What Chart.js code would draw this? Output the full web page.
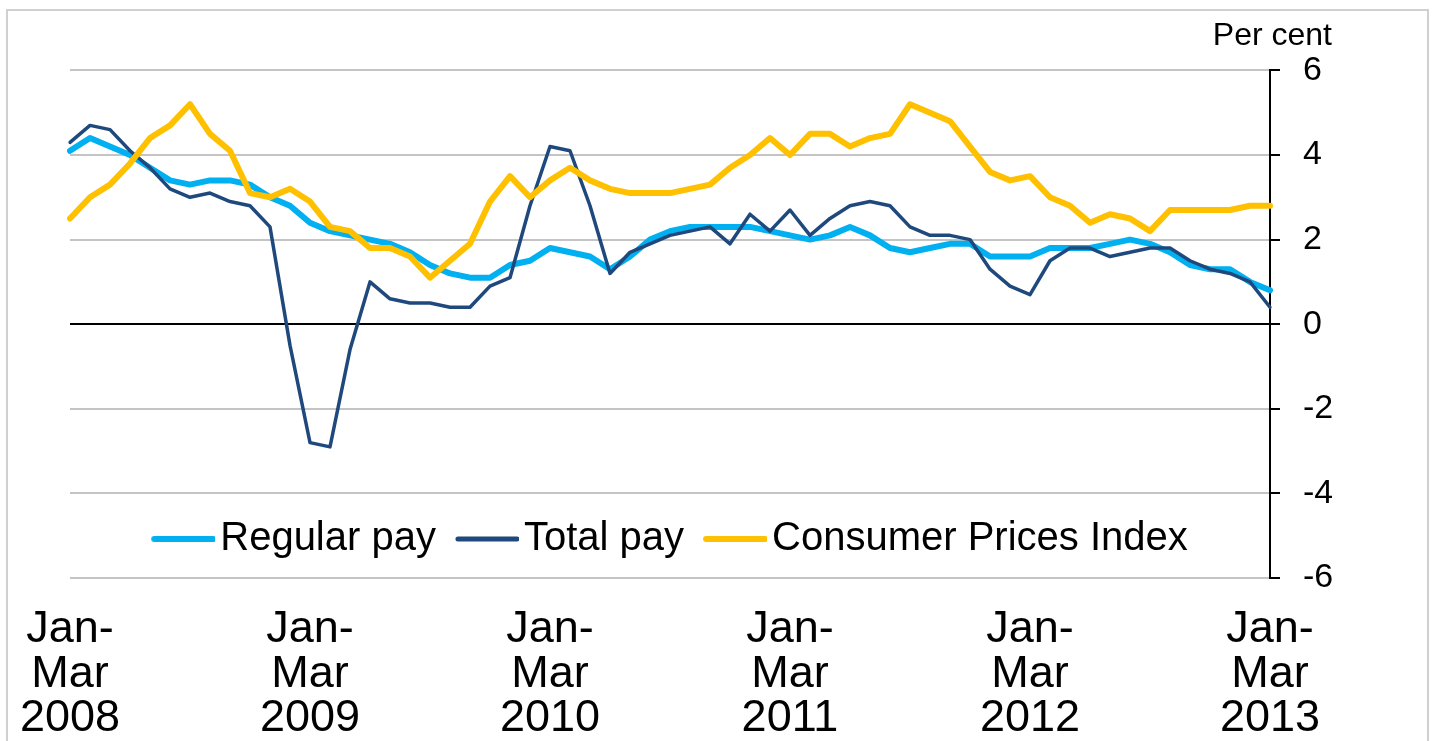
<!DOCTYPE html>
<html>
<head>
<meta charset="utf-8">
<title>Pay growth and CPI inflation</title>
<script src="https://cdn.jsdelivr.net/npm/chart.js@4.4.1/dist/chart.umd.min.js"></script>
<style>
  html, body { margin: 0; padding: 0; background: #fff; overflow: hidden; }
  #wrap { position: relative; width: 1432px; height: 741px; }
  #frame {
    position: absolute; left: 6px; top: 9px; width: 1419px; height: 760px;
    border: 2px solid #d0d0d0; pointer-events: none;
  }
</style>
</head>
<body>
<div id="wrap">
  <canvas id="pay_chart" width="1432" height="741"></canvas>
  <div id="frame"></div>
</div>
<script>
// years shown on the x axis, one label per Jan-Mar period
const YEARS = ['2008', '2009', '2010', '2011', '2012', '2013'];
const MONTHS = ['Jan', 'Feb', 'Mar', 'Apr', 'May', 'Jun', 'Jul', 'Aug', 'Sep', 'Oct', 'Nov', 'Dec'];

// per cent, rolling three months, Jan-Mar 2008 ... Jan-Mar 2013
const REGULAR_PAY = [
    4.1, 4.4, 4.2, 4.0, 3.7, 3.4, 3.3, 3.4, 3.4, 3.3, 3.0, 2.8,
    2.4, 2.2, 2.1, 2.0, 1.9, 1.7, 1.4, 1.2, 1.1, 1.1, 1.4, 1.5,
    1.8, 1.7, 1.6, 1.3, 1.6, 2.0, 2.2, 2.3, 2.3, 2.3, 2.3, 2.2,
    2.1, 2.0, 2.1, 2.3, 2.1, 1.8, 1.7, 1.8, 1.9, 1.9, 1.6, 1.6,
    1.6, 1.8, 1.8, 1.8, 1.9, 2.0, 1.9, 1.7, 1.4, 1.3, 1.3, 1.0,
    0.8
];
const TOTAL_PAY = [
    4.3, 4.7, 4.6, 4.1, 3.7, 3.2, 3.0, 3.1, 2.9, 2.8, 2.3, -0.5,
    -2.8, -2.9, -0.6, 1.0, 0.6, 0.5, 0.5, 0.4, 0.4, 0.9, 1.1, 2.8,
    4.2, 4.1, 2.8, 1.2, 1.7, 1.9, 2.1, 2.2, 2.3, 1.9, 2.6, 2.2,
    2.7, 2.1, 2.5, 2.8, 2.9, 2.8, 2.3, 2.1, 2.1, 2.0, 1.3, 0.9,
    0.7, 1.5, 1.8, 1.8, 1.6, 1.7, 1.8, 1.8, 1.5, 1.3, 1.2, 1.0,
    0.4
];
const CPI = [
    2.5, 3.0, 3.3, 3.8, 4.4, 4.7, 5.2, 4.5, 4.1, 3.1, 3.0, 3.2,
    2.9, 2.3, 2.2, 1.8, 1.8, 1.6, 1.1, 1.5, 1.9, 2.9, 3.5, 3.0,
    3.4, 3.7, 3.4, 3.2, 3.1, 3.1, 3.1, 3.2, 3.3, 3.7, 4.0, 4.4,
    4.0, 4.5, 4.5, 4.2, 4.4, 4.5, 5.2, 5.0, 4.8, 4.2, 3.6, 3.4,
    3.5, 3.0, 2.8, 2.4, 2.6, 2.5, 2.2, 2.7, 2.7, 2.7, 2.7, 2.8,
    2.8
];

const FONT = "'Liberation Sans', Arial, sans-serif";

// category labels: "Jan-Mar 2008", "Feb-Apr 2008", ...
const PERIODS = REGULAR_PAY.map((_, i) => {
    const first = MONTHS[i % 12];
    const last = MONTHS[(i + 2) % 12];
    const year = 2008 + Math.floor((i + 2) / 12);
    return first + '-' + last + ' ' + year;
});

// legend swatch: a short line sitting close to its text
function legendSwatch(color, width) {
    const c = document.createElement('canvas');
    c.width = 78;
    c.height = 10;
    const g = c.getContext('2d');
    g.strokeStyle = color;
    g.lineWidth = width;
    g.lineCap = 'round';
    g.beginPath();
    g.moveTo(17, 5);
    g.lineTo(76, 5);
    g.stroke();
    return c;
}

// legend takes no room in the layout, then sits in the lower part of the plot
const LEGEND_LOW = {
    id: 'legendLow',
    afterLayout(chart) {
        const lg = chart.legend;
        const area = chart.chartArea;
        lg.left = area.left;
        lg.right = area.right;
        lg.top = area.bottom - 79;
        lg.bottom = area.bottom;
    }
};

document.addEventListener("DOMContentLoaded", () => {
    const CHART_PAY = new Chart(document.getElementById('pay_chart'), {
        type: 'line',
        data: {
            labels: PERIODS,
            datasets: [
                {
                    label: 'Regular pay',
                    data: REGULAR_PAY,
                    borderColor: '#00B0F0',
                    backgroundColor: '#00B0F0',
                    borderWidth: 6,
                    order: 3
                },
                {
                    label: 'Total pay',
                    data: TOTAL_PAY,
                    borderColor: '#1F497D',
                    backgroundColor: '#1F497D',
                    borderWidth: 3.5,
                    order: 2
                },
                {
                    label: 'Consumer Prices Index',
                    data: CPI,
                    borderColor: '#FFC000',
                    backgroundColor: '#FFC000',
                    borderWidth: 6,
                    order: 1
                }
            ]
        },
        options: {
            responsive: false,
            animation: false,
            layout: { padding: { left: 70, right: 100, top: 0, bottom: 4 } },
            elements: {
                point: { radius: 0 },
                line: { tension: 0, borderJoinStyle: 'round', borderCapStyle: 'round' }
            },
            scales: {
                x: {
                    offset: false,
                    grid: { display: false, drawTicks: false },
                    border: { display: false },
                    afterFit: (scale) => {
                        scale.height = 159;
                        scale.paddingLeft = 0;
                        scale.paddingRight = 0;
                    },
                    ticks: {
                        autoSkip: false,
                        maxRotation: 0,
                        padding: 30,
                        color: '#000',
                        font: { family: FONT, size: 45, lineHeight: 0.98 },
                        callback: (value, index) =>
                            index % 12 === 0 ? ['Jan-', 'Mar', YEARS[index / 12]] : null
                    }
                },
                y: {
                    position: 'right',
                    min: -6,
                    max: 6,
                    afterFit: (scale) => { scale.width = 62; },
                    grid: {
                        color: (ctx) => ctx.tick && ctx.tick.value === 0 ? '#000' : '#c4c4c4',
                        lineWidth: 2,
                        tickColor: '#000',
                        tickLength: 10
                    },
                    border: { display: true, color: '#000', width: 2 },
                    ticks: {
                        stepSize: 2,
                        padding: 23,
                        color: '#000',
                        font: { family: FONT, size: 34 }
                    }
                }
            },
            plugins: {
                title: {
                    display: true,
                    text: 'Per cent',
                    align: 'end',
                    color: '#000',
                    font: { family: FONT, size: 32, weight: 'normal' },
                    padding: { top: 17, bottom: 15 }
                },
                legend: {
                    position: 'bottom',
                    maxHeight: 0.001,
                    labels: {
                        color: '#000',
                        font: { family: FONT, size: 40 },
                        boxHeight: 6,
                        usePointStyle: true,
                        pointStyleWidth: 48,
                        padding: 20,
                        sort: (a, b) => a.datasetIndex - b.datasetIndex,
                        generateLabels: (chart) => {
                            const items = Chart.defaults.plugins.legend.labels.generateLabels(chart);
                            items.forEach((it) => {
                                const ds = chart.data.datasets[it.datasetIndex];
                                it.pointStyle = legendSwatch(ds.borderColor, it.datasetIndex === 1 ? 5 : 6);
                            });
                            return items;
                        }
                    }
                },
                tooltip: { enabled: false }
            }
        },
        plugins: [LEGEND_LOW]
    });
});
</script>
</body>
</html>
